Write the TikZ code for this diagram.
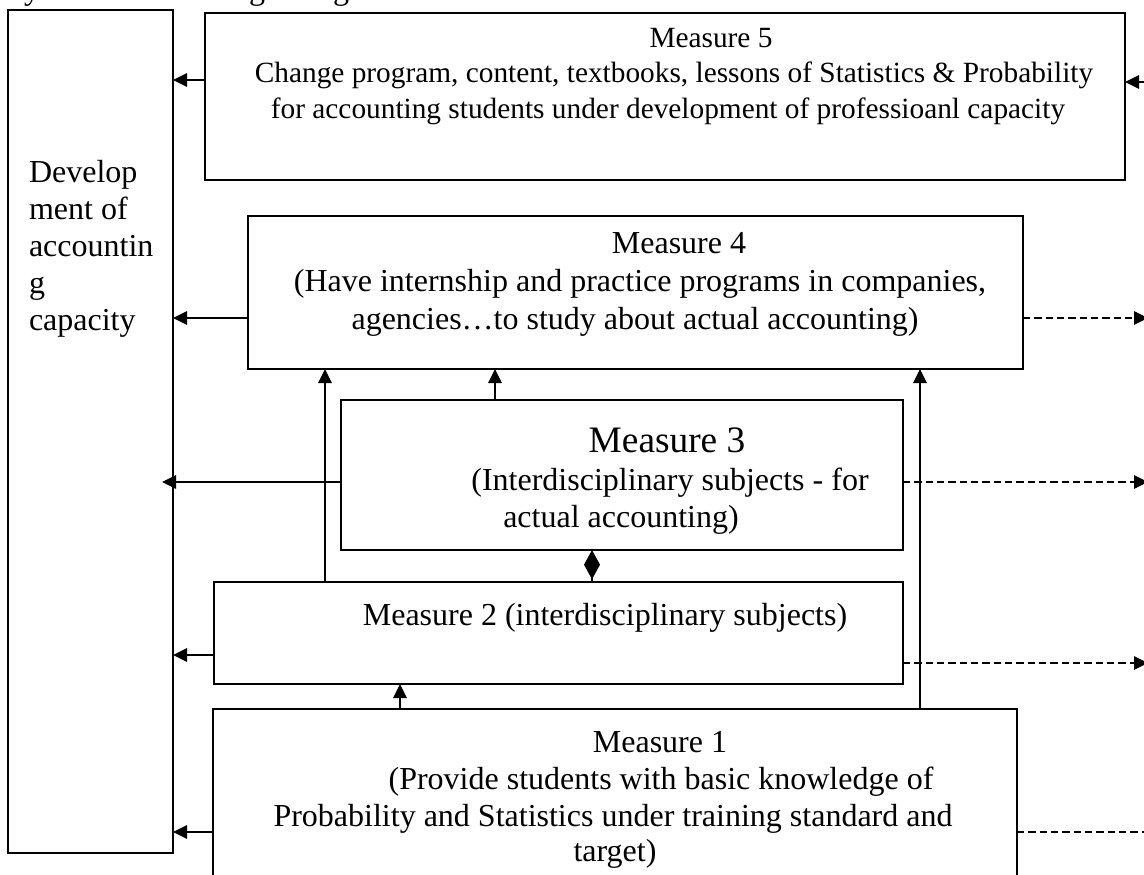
\documentclass[tikz,border=0pt]{standalone}
\usepackage{fontspec}
\setmainfont{Liberation Serif}
\usetikzlibrary{arrows.meta}
\begin{document}
\begin{tikzpicture}[x=0.75pt,y=-0.75pt,
  box/.style={draw, line width=1.4pt, inner sep=0pt, outer sep=0pt, rectangle},
  txt/.style={inner sep=0pt, outer sep=0pt, anchor=base, font=\fontsize{24}{27.75}\selectfont},
  stxt/.style={txt, font=\fontsize{22}{25.5}\selectfont},
  ltxt/.style={txt, anchor=base west},
  big/.style={txt, font=\fontsize{28}{32}\selectfont},
  arr/.style={line width=1.4pt, -{Triangle[length=10.5pt,width=10pt]}},
  darr/.style={arr, dash pattern=on 5.5pt off 3pt},
  dline/.style={line width=1.4pt, dash pattern=on 5.5pt off 3pt},
  dia/.style={line width=1.4pt, -{Diamond[length=22pt,width=12pt]}}]
\useasboundingbox (0,0) rectangle (1144,874);

% cut-off text fragments at the top edge
\node[txt] (fy) at (32,0) {y};
\node[txt] (fg1) at (257,0) {g};
\node[txt] (fg2) at (341,0) {g};

% boxes
\node[box, minimum width=123.75pt, minimum height=632.25pt] (L) at (90.5,431.5) {};
\node[box, minimum width=690pt, minimum height=125.25pt] (m5) at (665,96.5) {};
\node[box, minimum width=581.25pt, minimum height=114.75pt] (m4) at (635.5,292.5) {};
\node[box, minimum width=421.5pt, minimum height=112.5pt] (m3) at (622,475) {};
\node[box, minimum width=516.75pt, minimum height=76.5pt] (m2) at (558.5,633) {};
\node[box, minimum width=603pt, minimum height=143.25pt] (m1) at (615,804.5) {};

% texts
\node[ltxt] (la) at (29,182) {Develop};
\node[ltxt] (lb) at (29,219) {ment of};
\node[ltxt] (lc) at (29,256) {accountin};
\node[ltxt] (ld) at (29,293) {g};
\node[ltxt] (le) at (29,330) {capacity};

\node[stxt] (t5a) at (711,48) {Measure 5};
\node[stxt] (t5b) at (674,83) {Change program, content, textbooks, lessons of Statistics \& Probability};
\node[stxt] (t5c) at (668,118) {for accounting students under development of professioanl capacity};

\node[txt] (t4a) at (679,253) {Measure 4};
\node[txt] (t4b) at (640,291) {(Have internship and practice programs in companies,};
\node[txt] (t4c) at (635,329) {agencies…to study about actual accounting)};

\node[big] (t3a) at (667,452) {Measure 3};
\node[txt] (t3b) at (670,490) {(Interdisciplinary subjects - for};
\node[txt] (t3c) at (621,527) {actual accounting)};

\node[txt] (t2a) at (605,625) {Measure 2 (interdisciplinary subjects)};

\node[txt] (t1a) at (660,752) {Measure 1};
\node[txt] (t1b) at (661,789) {(Provide students with basic knowledge of};
\node[txt] (t1c) at (613,826) {Probability and Statistics under training standard and};
\node[txt] (t1d) at (615,861) {target)};

% helper coordinates
\coordinate (y5) at (0,80);
\coordinate (y5r) at (0,82);
\coordinate (y4) at (0,318);
\coordinate (y3) at (0,482);
\coordinate (y2) at (0,655);
\coordinate (y2r) at (0,663);
\coordinate (y1) at (0,832);
\coordinate (xr) at (1148,0);
\coordinate (xin) at (1150,0);
\coordinate (xl3) at (162,0);
\coordinate (xa) at (325,0);
\coordinate (xb) at (495,0);
\coordinate (xc) at (920,0);
\coordinate (xd) at (400,0);
\coordinate (xe) at (592,0);

% arrows to the left box
\draw[arr] (m5.west |- y5) -- (L.east |- y5);
\draw[arr] (m4.west |- y4) -- (L.east |- y4);
\draw[arr] (m3.west |- y3) -- (xl3 |- y3);
\draw[arr] (m2.west |- y2) -- (L.east |- y2);
\draw[arr] (m1.west |- y1) -- (L.east |- y1);

% arrow coming into measure 5
\draw[arr] (xin |- y5r) -- (m5.east |- y5r);

% dashed arrows to the right
\draw[darr] (m4.east |- y4) -- (xr |- y4);
\draw[darr] (m3.east |- y3) -- (xr |- y3);
\draw[darr] (m2.east |- y2r) -- (xr |- y2r);
\draw[dline] (m1.east |- y1) -- (xr |- y1);

% vertical arrows
\draw[arr] (xa |- m2.north) -- (xa |- m4.south);
\draw[arr] (xb |- m3.north) -- (xb |- m4.south);
\draw[arr] (xc |- m1.north) -- (xc |- m4.south);
\draw[arr] (xd |- m1.north) -- (xd |- m2.south);
\draw[dia] (xe |- m2.north) -- (xe |- m3.south);
\end{tikzpicture}
\end{document}
